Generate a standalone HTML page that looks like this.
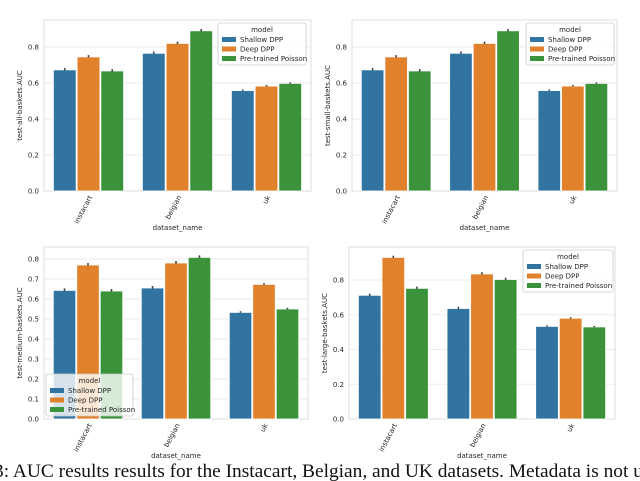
<!DOCTYPE html>
<html><head><meta charset="utf-8"><style>
body{margin:0;background:#fff;width:640px;height:481px;overflow:hidden}
svg{display:block}
text{font-family:"DejaVu Sans","Liberation Sans",sans-serif;fill:#262626}
</style></head><body>
<svg id="c" width="640" height="481">
<text x="-6" y="477" style="font-family:'Liberation Serif',serif;font-size:19.4px;fill:#111">3:  AUC results results for the Instacart, Belgian, and UK datasets. Metadata is not u</text>
</svg>
<script>
const categories=["instacart","belgian","uk"];
const models=["Shallow DPP","Deep DPP","Pre-trained Poisson"];
const allShallow=[0.673,0.765,0.558], allDeep=[0.745,0.820,0.583], allPois=[0.667,0.890,0.598];
const allErr=[0.01,0.01,0.006];
const smallShallow=[0.673,0.765,0.558], smallDeep=[0.745,0.820,0.583], smallPois=[0.667,0.890,0.598];
const medShallow=[0.643,0.655,0.533], medDeep=[0.770,0.780,0.673], medPois=[0.640,0.808,0.550];
const largeShallow=[0.712,0.636,0.533], largeDeep=[0.930,0.835,0.580], largePois=[0.752,0.803,0.530];
const ticks02=[0,0.2,0.4,0.6,0.8];
const ticks01=[0,0.1,0.2,0.3,0.4,0.5,0.6,0.7,0.8];
const colors=["#3274a1","#e1812c","#3a923a"];
const NS="http://www.w3.org/2000/svg";
const svg=document.getElementById('c');
function el(t,a,p){const e=document.createElementNS(NS,t);for(const k in a)e.setAttribute(k,a[k]);(p||svg).appendChild(e);return e;}
function panel(id,x0,x1,yTop,yBot,ymax,ticks,series,ylabel,leg){
  const g=el('g',{});
  
  
  const ys=v=>yBot-(v/ymax)*(yBot-yTop);
  ticks.forEach(t=>{
    const gl=el('line',{x1:x0,x2:x1,y1:ys(t),y2:ys(t),stroke:'#ebebeb','stroke-width':1},g);
    
    
    const tl=el('text',{x:x0-5,y:ys(t)+2.5,'text-anchor':'end','font-size':7},g);
    tl.textContent=t.toFixed(1);
    
    
  });
  const fr=el('rect',{x:x0,y:yTop,width:x1-x0,height:yBot-yTop,fill:'none',stroke:'#ddd','stroke-width':1},g);
  
  
  const gw=(x1-x0)/categories.length, bw=gw*0.8/3;
  categories.forEach((c,i)=>{
    const cx=x0+gw*(i+0.5);
    series.forEach((s,j)=>{
      const bx=cx-gw*0.4+bw*j, v=s[i];
      const r=el('rect',{x:bx+0.5,y:ys(v),width:bw-1,height:yBot-ys(v),fill:colors[j],stroke:'#fff','stroke-width':0.8},g);
      
      
      const e=allErr[i];
      const eb=el('line',{x1:bx+bw/2,x2:bx+bw/2,y1:ys(v+e),y2:ys(v-e*0.3),stroke:'#424242','stroke-width':1.6},g);
      
      
    });
    const tl=el('text',{x:cx+4,y:yBot+6,'text-anchor':'end','font-size':7,transform:`rotate(-62 ${cx+4} ${yBot+6})`},g);
    tl.textContent=c;
    
    
  });
  const xl=el('text',{x:(x0+x1)/2,y:yBot+39,'text-anchor':'middle','font-size':7},g);
  xl.textContent='dataset_name';
  
  
  const ym=(yTop+yBot)/2, yx=x0-22;
  const yl=el('text',{x:yx,y:ym,'text-anchor':'middle','font-size':7,transform:`rotate(-90 ${yx} ${ym})`},g);
  yl.textContent=ylabel;
  
  
  const lg=el('g',{},g);
  
  
  el('rect',{x:leg[0],y:leg[1],width:leg[2],height:42,fill:'rgba(255,255,255,0.8)',stroke:'#ccc','stroke-width':0.8,rx:2},lg);
  const lt=el('text',{x:leg[0]+leg[2]/2,y:leg[1]+9,'text-anchor':'middle','font-size':7},lg);
  lt.textContent='model';
  models.forEach((m,j)=>{
    const ly=leg[1]+18+j*9.5;
    const sw=el('rect',{x:leg[0]+4,y:ly-4,width:14,height:5,fill:colors[j]},lg);
    
    
    const t=el('text',{x:leg[0]+22,y:ly+1,'font-size':7},lg);
    t.textContent=m;
    
    
  });
}
panel('all',44,311,20,191,0.95,ticks02,[allShallow,allDeep,allPois],'test-all-baskets.AUC',[218,23,88]);
panel('small',352,617,20,191,0.95,ticks02,[smallShallow,smallDeep,smallPois],'test-small-baskets.AUC',[526,23,88]);
panel('medium',44,308,247,419,0.86,ticks01,[medShallow,medDeep,medPois],'test-medium-baskets.AUC',[46,374,87]);
panel('large',349,615,247,419,0.99,ticks02,[largeShallow,largeDeep,largePois],'test-large-baskets.AUC',[523,250,90]);
</script>
</body></html>
